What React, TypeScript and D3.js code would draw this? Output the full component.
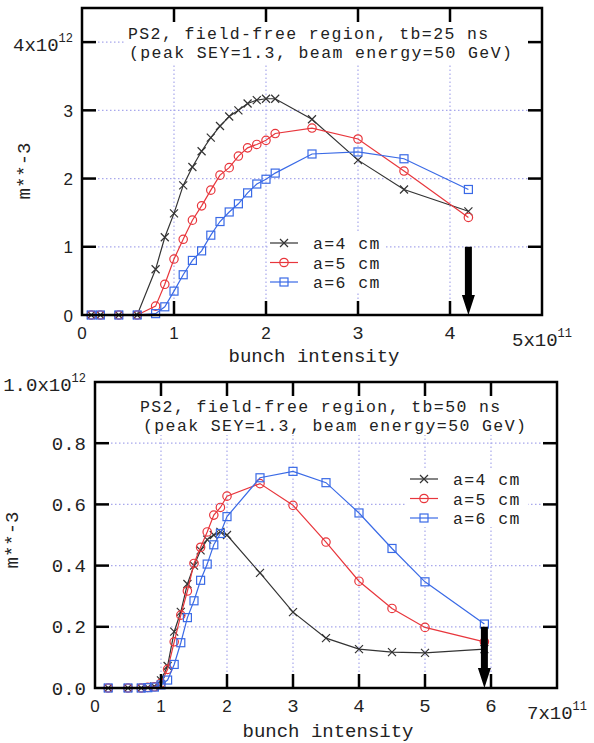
import React from "react";
import * as d3 from "d3";

// upper panel: tb = 25 ns
const topIntensity = [0.1, 0.2, 0.4, 0.6, 0.8, 0.9, 1.0, 1.1, 1.2, 1.3, 1.4, 1.5, 1.6, 1.7, 1.8, 1.9, 2.0, 2.1, 2.5, 3.0, 3.5, 4.2];
const topA4 = [0, 0, 0, 0, 0.67, 1.14, 1.49, 1.9, 2.17, 2.4, 2.6, 2.77, 2.91, 3.0, 3.1, 3.15, 3.17, 3.17, 2.87, 2.27, 1.84, 1.52];
const topA5 = [0, 0, 0, 0, 0.13, 0.45, 0.82, 1.11, 1.39, 1.6, 1.83, 2.05, 2.16, 2.33, 2.45, 2.5, 2.56, 2.66, 2.74, 2.58, 2.11, 1.43];
const topA6 = [0, 0, 0, 0, 0.02, 0.12, 0.35, 0.59, 0.8, 0.94, 1.17, 1.37, 1.51, 1.63, 1.79, 1.92, 1.99, 2.08, 2.36, 2.39, 2.29, 1.84];
const topXTicks = [0, 1, 2, 3, 4, 5];
const topXLabels = ["0", "1", "2", "3", "4", "5x10^11"];
const topYTicks = [0, 1, 2, 3, 4];
const topYLabels = ["0", "1", "2", "3", "4x10^12"];
const topTitle = ["PS2, field-free region, tb=25 ns", "(peak SEY=1.3, beam energy=50 GeV)"];

// lower panel: tb = 50 ns
const botIntensity = [0.2, 0.5, 0.7, 0.8, 0.9, 1.0, 1.1, 1.2, 1.3, 1.4, 1.5, 1.6, 1.7, 1.8, 1.9, 2.0, 2.5, 3.0, 3.5, 4.0, 4.5, 5.0, 5.9];
const botA4 = [0, 0, 0, 0.002, 0.005, 0.025, 0.072, 0.184, 0.249, 0.34, 0.4, 0.45, 0.485, 0.5, 0.51, 0.5, 0.376, 0.248, 0.163, 0.127, 0.117, 0.115, 0.127];
const botA5 = [0, 0, 0, 0.002, 0.004, 0.016, 0.061, 0.151, 0.238, 0.317, 0.407, 0.46, 0.51, 0.565, 0.59, 0.627, 0.668, 0.597, 0.477, 0.349, 0.26, 0.198, 0.151];
const botA6 = [0, 0, 0, 0.001, 0.003, 0.01, 0.026, 0.077, 0.148, 0.23, 0.285, 0.352, 0.405, 0.468, 0.505, 0.56, 0.687, 0.708, 0.671, 0.572, 0.456, 0.347, 0.209];
const botXTicks = [0, 1, 2, 3, 4, 5, 6, 7];
const botXLabels = ["0", "1", "2", "3", "4", "5", "6", "7x10^11"];
const botYTicks = [0, 0.2, 0.4, 0.6, 0.8, 1.0];
const botYLabels = ["0.0", "0.2", "0.4", "0.6", "0.8", "1.0x10^12"];
const botTitle = ["PS2, field-free region, tb=50 ns", "(peak SEY=1.3, beam energy=50 GeV)"];

const legendLabels = ["a=4 cm", "a=5 cm", "a=6 cm"];
const seriesColors = ["#333333", "#e8363c", "#3a6ae6"];
const markerKinds = ["cross", "circle", "square"];

const MONO = "'Liberation Mono', 'DejaVu Sans Mono', monospace";
const SANS = "'Liberation Sans', Arial, sans-serif";
const GRID = "#a8a8ec";
// body text: a bit smaller, letter-spaced to the reference's character pitch
const BODY = { fontFamily: MONO, fontSize: 16.5, letterSpacing: 1.4 };

function Marker({ kind, x, y, color }) {
  if (kind === "cross") {
    const s = 4;
    return (
      <path d={`M${x - s},${y - s}L${x + s},${y + s}M${x - s},${y + s}L${x + s},${y - s}`} stroke={color} strokeWidth={1.2} fill="none" />
    );
  }
  if (kind === "circle") return <circle cx={x} cy={y} r={4.2} stroke={color} strokeWidth={1.2} fill="none" />;
  return <rect x={x - 4} y={y - 4} width={8} height={8} stroke={color} strokeWidth={1.2} fill="none" />;
}

function TickText({ label, x, y, anchor, sans }) {
  const [main, sup] = label.split("^");
  return (
    <text x={x} y={y} textAnchor={anchor} fontFamily={sans ? SANS : MONO} fontSize={sans ? 17 : 19} fill="#222">
      {main}
      {sup && (
        <tspan dy={-9} fontSize={12}>
          {sup}
        </tspan>
      )}
    </text>
  );
}

function Panel(props) {
  const { box, xMax, yMax, xTicks, xLabels, yTicks, yLabels, xs, ys, title, titleBox, legendAt, legendBox, arrow, ylabAt, xlabDy, sansX, sansY } = props;
  const x = d3.scaleLinear().domain([0, xMax]).range([box.left, box.right]);
  const y = d3.scaleLinear().domain([0, yMax]).range([box.bottom, box.top]);
  const line = d3
    .line<number>()
    .x((_, i) => x(xs[i]))
    .y((d) => y(d));
  const inX = xTicks.filter((t) => t > 0 && t < xMax);
  const inY = yTicks.filter((t) => t > 0 && t < yMax);
  const tl = 14;
  const ax = x(arrow.x);
  const ay0 = y(arrow.from);
  const ay1 = y(0);
  return (
    <g>
      {inX.map((t) => (
        <line key={"gx" + t} x1={x(t)} x2={x(t)} y1={box.bottom} y2={box.top} stroke={GRID} strokeWidth={1.2} strokeDasharray="1.5,2.5" />
      ))}
      {yTicks.filter((t) => t > 0).map((t) => (
        <line key={"gy" + t} x1={box.left} x2={box.right} y1={y(t)} y2={y(t)} stroke={GRID} strokeWidth={1.2} strokeDasharray="1.5,2.5" />
      ))}
      <rect x={titleBox[0]} y={titleBox[1]} width={titleBox[2] - titleBox[0]} height={titleBox[3] - titleBox[1]} fill="#fff" />
      <rect x={legendBox[0]} y={legendBox[1]} width={legendBox[2] - legendBox[0]} height={legendBox[3] - legendBox[1]} fill="#fff" />
      {title.map((s, i) => (
        <text key={"t" + i} x={props.titleX[i]} y={props.titleY[i]} {...BODY} fill="#222" xmlSpace="preserve">
          {s}
        </text>
      ))}
      {ys.map((vals, k) => (
        <g key={"s" + k}>
          <path d={line(vals) || ""} fill="none" stroke={seriesColors[k]} strokeWidth={1.2} />
          {vals.map((v, i) => (
            <Marker key={i} kind={markerKinds[k]} x={x(xs[i])} y={y(v)} color={seriesColors[k]} />
          ))}
        </g>
      ))}
      {legendLabels.map((s, k) => {
        const ly = legendAt.y + k * 19.5;
        return (
          <g key={"l" + k}>
            <line x1={legendAt.x} x2={legendAt.x + 28} y1={ly} y2={ly} stroke={seriesColors[k]} strokeWidth={1.2} />
            <Marker kind={markerKinds[k]} x={legendAt.x + 14} y={ly} color={seriesColors[k]} />
            <text x={legendAt.x + 43} y={ly + 6} {...BODY} fill="#222" xmlSpace="preserve">
              {s}
            </text>
          </g>
        );
      })}
      <path
        d={`M${ax - 3.5},${ay0}L${ax + 3.5},${ay0}L${ax + 3.5},${ay1 - 20}L${ax + 6.5},${ay1 - 20}L${ax},${ay1}L${ax - 6.5},${ay1 - 20}L${ax - 3.5},${ay1 - 20}Z`}
        fill="#000"
      />
      {inX.map((t) => (
        <g key={"tx" + t}>
          <line x1={x(t)} x2={x(t)} y1={box.bottom} y2={box.bottom - tl} stroke="#000" strokeWidth={2.5} />
          <line x1={x(t)} x2={x(t)} y1={box.top} y2={box.top + tl} stroke="#000" strokeWidth={2.5} />
        </g>
      ))}
      {inY.map((t) => (
        <g key={"ty" + t}>
          <line x1={box.left} x2={box.left + tl} y1={y(t)} y2={y(t)} stroke="#000" strokeWidth={2.5} />
          <line x1={box.right} x2={box.right - tl} y1={y(t)} y2={y(t)} stroke="#000" strokeWidth={2.5} />
        </g>
      ))}
      <rect x={box.left} y={box.top} width={box.right - box.left} height={box.bottom - box.top} fill="none" stroke="#000" strokeWidth={2.5} />
      {xTicks.map((t, i) => {
        const last = i === xTicks.length - 1;
        return (
          <TickText
            key={"xl" + t}
            label={xLabels[i]}
            x={last ? x(t) - 30 : x(t)}
            y={box.bottom + (last ? 31 : 24)}
            anchor={last ? "start" : "middle"}
            sans={i < sansX}
          />
        );
      })}
      {yTicks.map((t, i) => {
        const last = i === yTicks.length - 1;
        return (
          <TickText key={"yl" + t} label={yLabels[i]} x={box.left - 9} y={y(t) + (last ? 9 : 6.5)} anchor="end" sans={i < sansY} />
        );
      })}
      <text x={(box.left + box.right) / 2 + 2} y={box.bottom + xlabDy} textAnchor="middle" fontFamily={MONO} fontSize={19} fill="#222">
        bunch intensity
      </text>
      <text
        transform={`translate(${ylabAt.x},${ylabAt.y}) rotate(-90)`}
        textAnchor="middle"
        dy="0.35em"
        fontFamily={MONO}
        fontSize={19}
        fill="#222"
      >
        m**-3
      </text>
    </g>
  );
}

export default function App() {
  return (
    <div style={{ position: "absolute", left: 0, top: 0 }}>
      <svg width={594} height={743} style={{ display: "block", background: "#fff" }}>
        <Panel
          box={{ left: 82, right: 542, top: 8, bottom: 315 }}
          xMax={5}
          yMax={4.5}
          xTicks={topXTicks}
          xLabels={topXLabels}
          yTicks={topYTicks}
          yLabels={topYLabels}
          xs={topIntensity}
          ys={[topA4, topA5, topA6]}
          title={topTitle}
          titleX={[128, 129]}
          titleY={[38.5, 57.5]}
          titleBox={[126, 22, 528, 63]}
          legendAt={{ x: 270, y: 243 }}
          legendBox={[268, 233, 385, 291]}
          arrow={{ x: 4.2, from: 1.0 }}
          ylabAt={{ x: 23, y: 171 }}
          xlabDy={47}
          sansX={3}
          sansY={4}
        />
        <Panel
          box={{ left: 95, right: 557, top: 382, bottom: 688 }}
          xMax={7}
          yMax={1.0}
          xTicks={botXTicks}
          xLabels={botXLabels}
          yTicks={botYTicks}
          yLabels={botYLabels}
          xs={botIntensity}
          ys={[botA4, botA5, botA6]}
          title={botTitle}
          titleX={[140, 143]}
          titleY={[411.5, 430.5]}
          titleBox={[138, 390, 540, 435]}
          legendAt={{ x: 410, y: 479 }}
          legendBox={[406, 470, 528, 527]}
          arrow={{ x: 5.9, from: 0.2 }}
          ylabAt={{ x: 11, y: 540 }}
          xlabDy={49}
          sansX={3}
          sansY={0}
        />
      </svg>
    </div>
  );
}
